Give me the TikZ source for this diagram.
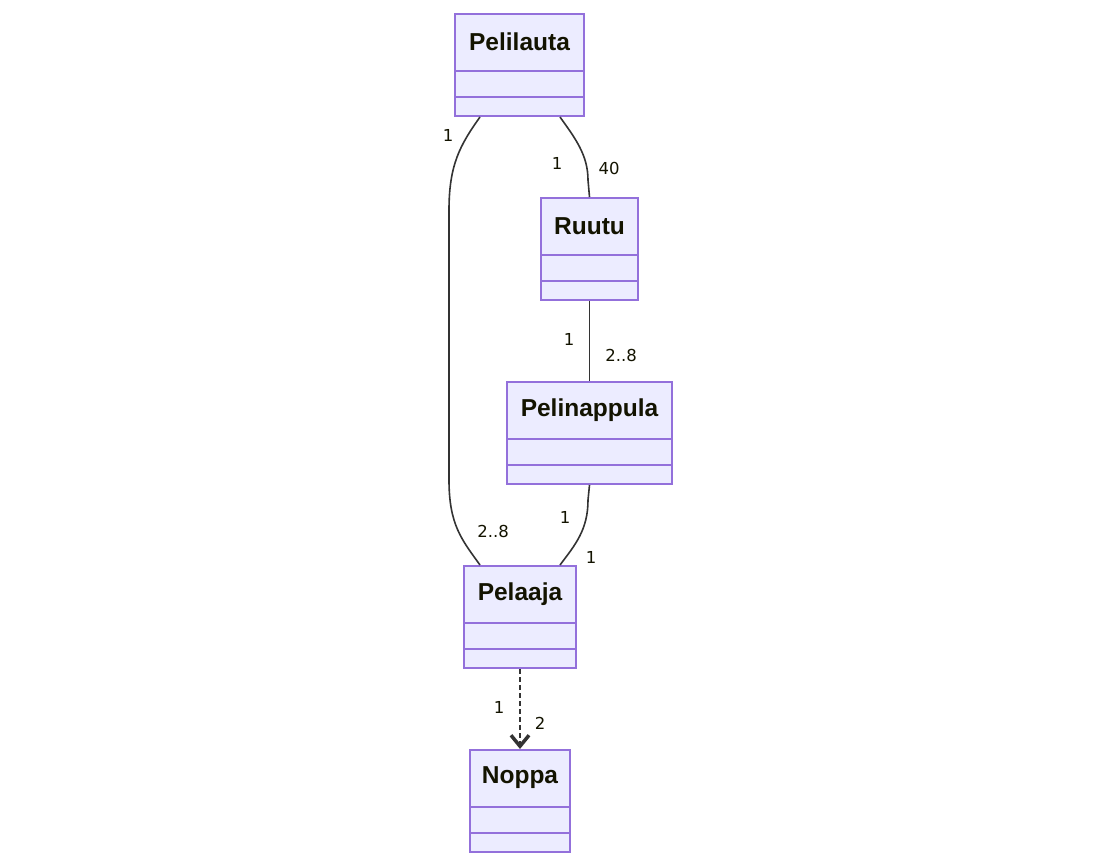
\documentclass[tikz,border=0pt]{standalone}
\usepackage{fontspec}
\setmainfont{DejaVu Sans}
\newfontfamily\titlefont{Liberation Sans}
\usetikzlibrary{calc,arrows.meta}
\definecolor{boxfill}{HTML}{ECECFF}
\definecolor{boxdraw}{HTML}{9370DB}
\definecolor{edgecol}{HTML}{333333}
\definecolor{txtcol}{HTML}{131300}
\tikzset{
  classbox/.style={draw=boxdraw, fill=boxfill, line width=2pt, inner sep=0pt, anchor=north west, minimum height=102pt},
  classtitle/.style={font=\titlefont\bfseries\fontsize{24.5}{27}\selectfont, text=txtcol, inner sep=0pt},
  divline/.style={draw=boxdraw, line width=2pt},
  assoc/.style={draw=edgecol, line width=1.6pt},
  dep/.style={draw=edgecol, line width=2pt, dash pattern=on 5pt off 3pt},
  mult/.style={font=\fontsize{16.5}{18}\selectfont, text=txtcol, inner sep=0pt}
}
\newcommand{\umlclass}[5]{%
  \node[classbox, minimum width=#4pt] (#1) at (#2,#3) {};
  \node[classtitle] (#1t) at ($(#1.north)+(0,29)$) {#5};
  \draw[divline] ($(#1.north west)+(0,58)$) -- ($(#1.north east)+(0,58)$);
  \draw[divline] ($(#1.north west)+(0,84)$) -- ($(#1.north east)+(0,84)$);
}
\begin{document}
\begin{tikzpicture}[x=1pt,y=-1pt]
\useasboundingbox (0,0) rectangle (1116,865);
\umlclass{pl}{454}{13}{129}{Pelilauta}
\umlclass{ru}{540}{197}{97}{Ruutu}
\umlclass{pn}{506}{381}{165}{Pelinappula}
\umlclass{pa}{463}{565}{112}{Pelaaja}
\umlclass{no}{469}{749}{100}{Noppa}
% edges
\draw[assoc] ([xshift=26pt]pl.south west) .. controls (460,145) and (449,165) .. (449,210) -- (449,480) .. controls (449,525) and (462,540) .. ([xshift=17pt]pa.north west);
\draw[assoc] ([xshift=-25pt]pl.south east) .. controls (575,138) and (588,155) .. (588,180) -- (ru.north);
\draw[assoc] (ru.south) -- (ru.south |- pn.north);
\draw[assoc] (pn.south) -- (588,500) .. controls (588,530) and (575,545) .. ([xshift=-17pt]pa.north east);
\draw[dep, -{Straight Barb[length=11pt,width=18pt,line width=3.5pt]}] (pa.south) -- (no.north);
% multiplicities
\node[mult] (m1) at (448,135) {1};
\node[mult] (m2) at (557,163) {1};
\node[mult] (m3) at (609,168) {40};
\node[mult] (m4) at (569,339) {1};
\node[mult] (m5) at (621,355) {2..8};
\node[mult] (m6) at (493,531) {2..8};
\node[mult] (m7) at (565,517) {1};
\node[mult] (m8) at (591,557) {1};
\node[mult] (m9) at (499,707) {1};
\node[mult] (m10) at (540,723) {2};
\end{tikzpicture}
\end{document}
